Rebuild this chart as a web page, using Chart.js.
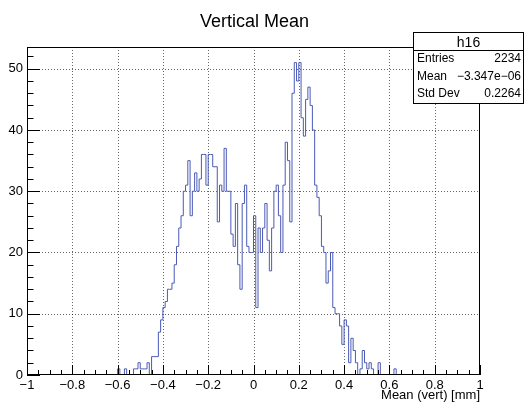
<!DOCTYPE html>
<html lang="en">
<head>
  <meta charset="UTF-8">
  <title>Vertical Mean</title>
  <script src="https://cdn.jsdelivr.net/npm/chart.js"></script>
  <style>
    body {
      margin: 0;
      background: #fff;
    }
    #myChart {
      display: block;
    }
  </style>
</head>
<body>
  <canvas id="myChart" width="524" height="402"></canvas>

  <script>
    // Histogram h16: bins of width 0.01, listed from low edge -0.60 (all other bins are empty)
    const histTitle = "Vertical Mean";
    const histName = "h16";
    const xTitle = "Mean (vert) [mm]";
    const binLow = -0.60;
    const binWidth = 0.01;
    const counts = [
      1, 0, 0, 1, 0, 0, 0, 1, 1, 2,          // -0.60 .. -0.51
      1, 1, 1, 2, 0, 3, 3, 3, 7, 9,          // -0.50 .. -0.41
      11, 12, 14, 14, 15, 18, 21, 24, 26, 30, // -0.40 .. -0.31
      31, 35, 26, 30, 33, 30, 32, 36, 36, 31, // -0.30 .. -0.21
      36, 36, 34, 34, 25, 31, 30, 37, 30, 30, // -0.20 .. -0.11
      23, 21, 28, 18, 14, 28, 31, 21, 20, 20, // -0.10 .. -0.01
      26, 11, 24, 20, 24, 28, 22, 17, 24, 30, //  0.00 ..  0.09
      31, 26, 20, 31, 38, 35, 25, 46, 51, 48, //  0.10 ..  0.19
      51, 42, 39, 45, 47, 44, 40, 31, 29, 26, //  0.20 ..  0.29
      21, 20, 15, 17, 20, 11, 10, 10, 8, 5,   //  0.30 ..  0.39
      9, 8, 2, 6, 4, 2, 0, 1, 4, 2,           //  0.40 ..  0.49
      1, 2, 1, 0, 0, 2, 0, 0, 0, 0,           //  0.50 ..  0.59
      0, 0, 1                                 //  0.60 ..  0.62
    ];
    const statsRows = [
      ["Entries", "2234"],
      ["Mean", "\u22123.347e\u221206"],
      ["Std Dev", "0.2264"]
    ];

    const FONT = "'Liberation Sans', Arial, Helvetica, sans-serif";

    // step points: each bin value is held from its low edge to the next one
    function buildPoints() {
      const pts = [{ x: -1, y: 0 }];
      counts.forEach((c, i) => {
        pts.push({ x: +(binLow + i * binWidth).toFixed(3), y: c });
      });
      pts.push({ x: +(binLow + counts.length * binWidth).toFixed(3), y: 0 });
      pts.push({ x: 1, y: 0 });
      return pts;
    }

    function fmtTick(v) {
      const r = Math.round(v * 10) / 10;
      return String(r).replace("-", "\u2212");
    }

    // ROOT-like frame: dotted grid, inward ticks, frame box, title, stats box, axis title
    const rootFrame = {
      id: "rootFrame",
      beforeDatasetsDraw(chart) {
        const { ctx, chartArea: a, scales: { x, y } } = chart;
        ctx.save();
        ctx.strokeStyle = "rgba(0,0,0,0.6)";
        ctx.lineWidth = 1;
        ctx.setLineDash([1, 2]);
        for (let i = 1; i < 10; i++) {
          const px = Math.round(x.getPixelForValue(-1 + i * 0.2)) + 0.5;
          ctx.beginPath();
          ctx.moveTo(px, a.top);
          ctx.lineTo(px, a.bottom);
          ctx.stroke();
        }
        for (let v = 10; v <= 50; v += 10) {
          const py = Math.round(y.getPixelForValue(v)) + 0.5;
          ctx.beginPath();
          ctx.moveTo(a.left, py);
          ctx.lineTo(a.right, py);
          ctx.stroke();
        }
        ctx.restore();
      },
      afterDatasetsDraw(chart) {
        const { ctx, chartArea: a, scales: { x, y } } = chart;
        ctx.save();
        ctx.strokeStyle = "#000";
        ctx.lineWidth = 1;
        ctx.setLineDash([]);
        // ticks on x axis, 4 sub-divisions per 0.2
        for (let i = 0; i <= 40; i++) {
          const px = Math.round(x.getPixelForValue(-1 + i * 0.05)) + 0.5;
          const len = i % 4 === 0 ? 10 : 5;
          ctx.beginPath();
          ctx.moveTo(px, a.bottom);
          ctx.lineTo(px, a.bottom - len);
          ctx.stroke();
        }
        // ticks on y axis, every 2 with major every 10
        for (let v = 0; v <= 52; v += 2) {
          const py = Math.round(y.getPixelForValue(v)) + 0.5;
          const len = v % 10 === 0 ? 13 : 6.5;
          ctx.beginPath();
          ctx.moveTo(a.left, py);
          ctx.lineTo(a.left + len, py);
          ctx.stroke();
        }
        // frame
        ctx.strokeRect(Math.round(a.left) + 0.5, Math.round(a.top) + 0.5,
          Math.round(a.right - a.left) - 1, Math.round(a.bottom - a.top) - 1);

        // title
        ctx.fillStyle = "#000";
        ctx.font = "18px " + FONT;
        ctx.textAlign = "center";
        ctx.textBaseline = "alphabetic";
        ctx.fillText(histTitle, (a.left + a.right) / 2 + 1, 27);

        // x axis title
        ctx.font = "13px " + FONT;
        ctx.textAlign = "right";
        ctx.fillText(xTitle, a.right, 399);

        // stats box
        const bx = 413.5, by = 32.5, bw = 110, bh = 71;
        ctx.fillStyle = "#fff";
        ctx.fillRect(bx, by, bw, bh);
        ctx.strokeRect(bx, by, bw, bh);
        ctx.beginPath();
        ctx.moveTo(bx, 50.5);
        ctx.lineTo(bx + bw, 50.5);
        ctx.stroke();
        ctx.fillStyle = "#000";
        ctx.font = "14px " + FONT;
        ctx.textAlign = "center";
        ctx.fillText(histName, bx + bw / 2, 46.5);
        ctx.font = "12px " + FONT;
        statsRows.forEach((row, i) => {
          const base = 62 + i * 17.5;
          ctx.textAlign = "left";
          ctx.fillText(row[0], 417, base);
          ctx.textAlign = "right";
          ctx.fillText(row[1], 521, base);
        });
        ctx.restore();
      }
    };

    const ctx = document.getElementById("myChart").getContext("2d");
    const chart = new Chart(ctx, {
      type: "line",
      data: {
        datasets: [{
          label: histName,
          data: buildPoints(),
          stepped: true,
          borderColor: "#4b5ab6",
          borderWidth: 1,
          pointRadius: 0,
          fill: false
        }]
      },
      options: {
        responsive: false,
        animation: false,
        layout: { padding: { top: 47, right: 44, left: 0, bottom: 0 } },
        plugins: {
          legend: { display: false },
          tooltip: { enabled: false },
          title: { display: false }
        },
        scales: {
          x: {
            type: "linear",
            min: -1,
            max: 1,
            grid: { display: false, drawTicks: false },
            border: { display: false },
            afterFit: (s) => { s.height = 27; },
            ticks: {
              stepSize: 0.2,
              padding: 3,
              autoSkip: false,
              maxRotation: 0,
              color: "#000",
              font: { family: FONT, size: 13 },
              callback: (v) => fmtTick(v)
            }
          },
          y: {
            min: 0,
            max: 53.55,
            grid: { display: false, drawTicks: false },
            border: { display: false },
            afterFit: (s) => { s.width = 27; },
            ticks: {
              stepSize: 10,
              includeBounds: false,
              padding: 4,
              color: "#000",
              font: { family: FONT, size: 13 },
              callback: (v) => fmtTick(v)
            }
          }
        }
      },
      plugins: [rootFrame]
    });
  </script>
</body>
</html>
